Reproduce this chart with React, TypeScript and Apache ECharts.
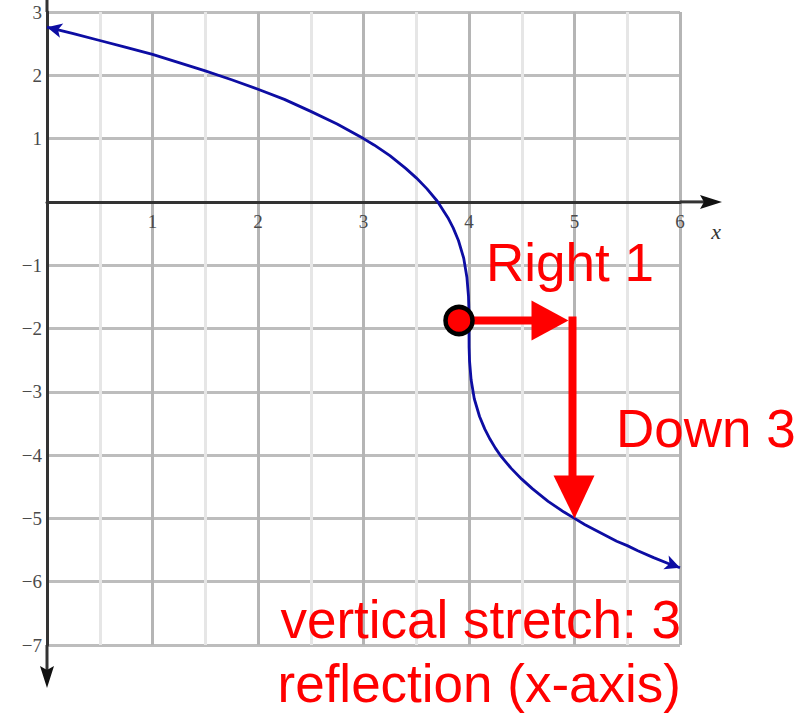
import React, { useEffect, useRef } from "react";
import * as echarts from "echarts";

// ---- data ----
const X_TICKS = [1, 2, 3, 4, 5, 6];
const Y_TICKS = [3, 2, 1, -1, -2, -3, -4, -5, -6, -7];
const X_RANGE = [0, 6];
const Y_RANGE = [-7, 3];

const CURVE_X = [
  0, 0.25, 0.5, 0.75, 1, 1.25, 1.5, 1.75, 2, 2.25, 2.5, 2.75, 3, 3.1, 3.25,
  3.4, 3.5, 3.6, 3.7, 3.8, 3.85, 3.9, 3.95, 3.98, 3.995, 3.999, 4, 4.001,
  4.005, 4.02, 4.05, 4.1, 4.15, 4.2, 4.25, 4.3, 4.35, 4.4, 4.5, 4.6, 4.75,
  4.9, 5, 5.1, 5.25, 5.4, 5.5, 5.6, 5.75, 5.9, 6,
];
const CURVE_Y = [
  2.76, 2.66, 2.55, 2.44, 2.33, 2.2, 2.07, 1.93, 1.78, 1.62, 1.43, 1.23, 1.0,
  0.9, 0.73, 0.53, 0.38, 0.21, 0.01, -0.25, -0.41, -0.61, -0.89, -1.19, -1.49,
  -1.7, -2.0, -2.3, -2.51, -2.81, -3.11, -3.39, -3.59, -3.75, -3.89, -4.01,
  -4.11, -4.21, -4.38, -4.53, -4.73, -4.9, -5.0, -5.1, -5.23, -5.36, -5.43,
  -5.51, -5.62, -5.72, -5.78,
];

const POINT = [4, -2];
const RIGHT_END = [5, -2];
const DOWN_END = [5, -5];

const TEXT_RIGHT = "Right 1";
const TEXT_DOWN = "Down 3";
const TEXT_LINE1 = "vertical stretch: 3";
const TEXT_LINE2 = "reflection (x-axis)";
const AXIS_NAME_X = "x";

// ---- styles ----
const RED = "#ff0000";
const BLUE = "#0d0da3";
const AXIS = "#333333";
const SANS = "'Liberation Sans', Arial, sans-serif";
const SERIF = "'Liberation Serif', 'Times New Roman', serif";
const GRID = { left: 47, top: 12, width: 633, height: 633 };

const fmt = (v: number) => (v < 0 ? "\u2212" + -v : String(v));

export default function App() {
  const ref = useRef<HTMLDivElement>(null);

  useEffect(() => {
    if (!ref.current) return;
    const chart = echarts.init(ref.current, undefined, { renderer: "svg" });

    const curveData = CURVE_X.map((x, i) => {
      const item: any = { value: [x, CURVE_Y[i]] };
      if (i === 0) {
        item.symbol = "arrow";
        item.symbolSize = [11, 15];
        item.symbolRotate = 77;
      } else if (i === CURVE_X.length - 1) {
        item.symbol = "arrow";
        item.symbolSize = [11, 15];
        item.symbolRotate = -111;
      }
      return item;
    });

    // move the x axis (line + labels) up to y = 0
    const xAxisOffset = -(GRID.height * (0 - Y_RANGE[0])) / (Y_RANGE[1] - Y_RANGE[0]);

    chart.setOption({
      animation: false,
      backgroundColor: "#ffffff",
      grid: GRID,
      xAxis: {
        type: "value",
        min: X_RANGE[0],
        max: X_RANGE[1],
        interval: 1,
        offset: xAxisOffset,
        axisLine: { show: true, onZero: false, lineStyle: { color: AXIS, width: 3 } },
        axisTick: { show: false },
        minorTick: { show: false, splitNumber: 2 },
        minorSplitLine: { show: true, lineStyle: { color: "#e6e6e6", width: 3 } },
        splitLine: { show: true, lineStyle: { color: "#b5b5b5", width: 3 } },
        axisLabel: {
          margin: 10,
          fontFamily: SERIF,
          fontSize: 19,
          color: "#4a4a4a",
          formatter: (v: number) => (X_TICKS.includes(v) ? fmt(v) : ""),
        },
      },
      yAxis: {
        type: "value",
        min: Y_RANGE[0],
        max: Y_RANGE[1],
        interval: 1,
        axisLine: { show: true, onZero: false, lineStyle: { color: AXIS, width: 3 } },
        axisTick: { show: false },
        splitLine: { show: true, lineStyle: { color: "#bdbdbd", width: 3 } },
        axisLabel: {
          margin: 5,
          fontFamily: SERIF,
          fontSize: 19,
          color: "#4a4a4a",
          formatter: (v: number) => (Y_TICKS.includes(v) ? fmt(v) : ""),
        },
      },
      series: [
        {
          type: "line",
          data: curveData,
          symbol: "none",
          showSymbol: true,
          smooth: false,
          lineStyle: { color: BLUE, width: 2.8, join: "round" },
          itemStyle: { color: BLUE },
          z: 3,
        },
        {
          type: "scatter",
          data: [POINT],
          symbolSize: 27,
          symbolOffset: [-10, -8],
          itemStyle: { color: RED, borderColor: "#000", borderWidth: 4.5, opacity: 1 },
          z: 10,
        },
      ],
    });

    const p = chart.convertToPixel({ gridIndex: 0 }, POINT) as number[];
    const r = chart.convertToPixel({ gridIndex: 0 }, RIGHT_END) as number[];
    const d = chart.convertToPixel({ gridIndex: 0 }, DOWN_END) as number[];
    const origin = chart.convertToPixel({ gridIndex: 0 }, [X_RANGE[0], 0]) as number[];
    const xEnd = chart.convertToPixel({ gridIndex: 0 }, [X_RANGE[1], 0]) as number[];
    const yBottom = chart.convertToPixel({ gridIndex: 0 }, [0, Y_RANGE[0]]) as number[];
    const yTop = chart.convertToPixel({ gridIndex: 0 }, [0, Y_RANGE[1]]) as number[];

    const sy = p[1] - 8; // arrow shaft level (matches nudged point)
    const sx = p[0] - 10;
    const vx = r[0] - 2;
    const hTip = vx - 4;

    chart.setOption({
      graphic: [
        // x axis extension + arrow
        {
          type: "line",
          z: 5,
          shape: { x1: xEnd[0], y1: origin[1], x2: xEnd[0] + 26, y2: origin[1] },
          style: { stroke: AXIS, lineWidth: 3 },
        },
        {
          type: "polygon",
          z: 5,
          shape: {
            points: [
              [xEnd[0] + 42, origin[1]],
              [xEnd[0] + 20, origin[1] - 7],
              [xEnd[0] + 24, origin[1]],
              [xEnd[0] + 20, origin[1] + 7],
            ],
          },
          style: { fill: "#111" },
        },
        // y axis extension (top and bottom) + arrow
        {
          type: "line",
          z: 5,
          shape: { x1: origin[0], y1: yTop[1], x2: origin[0], y2: -5 },
          style: { stroke: AXIS, lineWidth: 3 },
        },
        {
          type: "line",
          z: 5,
          shape: { x1: origin[0], y1: yBottom[1], x2: origin[0], y2: yBottom[1] + 26 },
          style: { stroke: AXIS, lineWidth: 3 },
        },
        {
          type: "polygon",
          z: 5,
          shape: {
            points: [
              [origin[0], yBottom[1] + 43],
              [origin[0] - 7, yBottom[1] + 21],
              [origin[0], yBottom[1] + 25],
              [origin[0] + 7, yBottom[1] + 21],
            ],
          },
          style: { fill: "#111" },
        },
        {
          type: "text",
          z: 5,
          x: xEnd[0] + 36,
          y: origin[1] + 30,
          style: {
            text: AXIS_NAME_X,
            font: `italic 22px ${SERIF}`,
            fill: "#333",
            align: "center",
            verticalAlign: "middle",
          },
        },
        // red arrows
        {
          type: "line",
          z: 8,
          shape: { x1: sx, y1: sy, x2: hTip - 34, y2: sy },
          style: { stroke: RED, lineWidth: 8 },
        },
        {
          type: "polygon",
          z: 8,
          shape: {
            points: [
              [hTip - 37, sy - 20],
              [hTip, sy],
              [hTip - 37, sy + 20],
            ],
          },
          style: { fill: RED },
        },
        {
          type: "line",
          z: 8,
          shape: { x1: vx, y1: sy - 4, x2: vx, y2: d[1] - 40 },
          style: { stroke: RED, lineWidth: 8 },
        },
        {
          type: "polygon",
          z: 8,
          shape: {
            points: [
              [d[0] - 21, d[1] - 43],
              [d[0], d[1]],
              [d[0] + 20, d[1] - 43],
            ],
          },
          style: { fill: RED },
        },
        // red texts
        {
          type: "text",
          z: 20,
          x: 486,
          y: 262,
          style: { text: TEXT_RIGHT, font: `53px ${SANS}`, fill: RED, align: "left", verticalAlign: "middle" },
        },
        {
          type: "text",
          z: 20,
          x: 616,
          y: 428,
          style: { text: TEXT_DOWN, font: `53px ${SANS}`, fill: RED, align: "left", verticalAlign: "middle" },
        },
        {
          type: "text",
          z: 20,
          x: 681,
          y: 619,
          style: { text: TEXT_LINE1, font: `53px ${SANS}`, fill: RED, align: "right", verticalAlign: "middle" },
        },
        {
          type: "text",
          z: 20,
          x: 681,
          y: 683,
          style: { text: TEXT_LINE2, font: `53px ${SANS}`, fill: RED, align: "right", verticalAlign: "middle" },
        },
      ],
    });

    return () => chart.dispose();
  }, []);

  return (
    <div
      ref={ref}
      style={{ position: "fixed", left: 0, top: 0, width: 800, height: 713, background: "#fff" }}
    />
  );
}
